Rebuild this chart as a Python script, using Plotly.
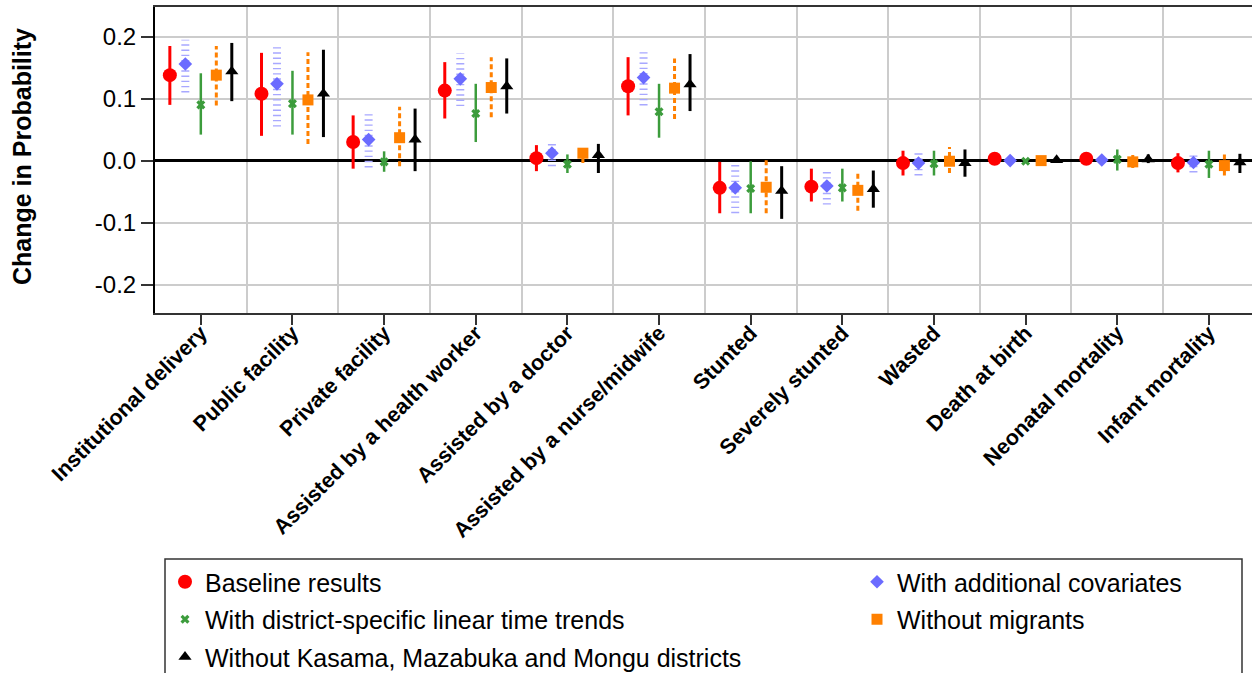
import plotly.graph_objects as go

categories = ["Institutional delivery", "Public facility", "Private facility",
              "Assisted by a health worker", "Assisted by a doctor",
              "Assisted by a nurse/midwife", "Stunted", "Severely stunted",
              "Wasted", "Death at birth", "Neonatal mortality", "Infant mortality"]

series_names = ["Baseline results", "With additional covariates",
                "With district-specific linear time trends", "Without migrants",
                "Without Kasama, Mazabuka and Mongu districts"]

baseline_est = [0.138, 0.108, 0.030, 0.113, 0.004, 0.120, -0.044, -0.042, -0.004, 0.003, 0.003, -0.004]
baseline_lo = [0.090, 0.040, -0.013, 0.068, -0.017, 0.073, -0.085, -0.066, -0.024, 0.000, 0.000, -0.019]
baseline_hi = [0.185, 0.174, 0.073, 0.159, 0.025, 0.167, -0.002, -0.013, 0.016, 0.006, 0.006, 0.012]

covar_est = [0.156, 0.124, 0.034, 0.132, 0.012, 0.134, -0.044, -0.041, -0.004, 0.000, 0.001, -0.003]
covar_lo = [0.110, 0.055, -0.011, 0.088, -0.009, 0.089, -0.085, -0.071, -0.024, -0.003, -0.003, -0.019]
covar_hi = [0.195, 0.188, 0.075, 0.173, 0.029, 0.175, -0.007, -0.014, 0.013, 0.003, 0.005, 0.010]

district_est = [0.090, 0.092, -0.002, 0.076, -0.006, 0.079, -0.045, -0.044, -0.005, -0.001, 0.002, -0.006]
district_lo = [0.042, 0.042, -0.018, 0.030, -0.020, 0.037, -0.085, -0.066, -0.024, -0.003, -0.016, -0.028]
district_hi = [0.141, 0.145, 0.015, 0.124, 0.010, 0.124, -0.001, -0.013, 0.016, 0.002, 0.018, 0.016]

migrants_est = [0.138, 0.098, 0.037, 0.118, 0.012, 0.117, -0.043, -0.048, -0.001, 0.000, -0.002, -0.008]
migrants_lo = [0.089, 0.027, -0.009, 0.070, -0.004, 0.067, -0.085, -0.081, -0.020, -0.003, -0.012, -0.024]
migrants_hi = [0.185, 0.175, 0.087, 0.167, 0.022, 0.165, 0.002, -0.020, 0.022, 0.003, 0.011, 0.013]

kasama_est = [0.144, 0.108, 0.034, 0.120, 0.009, 0.123, -0.049, -0.046, -0.004, 0.001, 0.002, -0.003]
kasama_lo = [0.096, 0.038, -0.017, 0.076, -0.020, 0.080, -0.094, -0.076, -0.026, -0.001, -0.004, -0.020]
kasama_hi = [0.190, 0.179, 0.084, 0.165, 0.027, 0.172, -0.009, -0.016, 0.018, 0.004, 0.010, 0.011]

y_tickvals = [-0.2, -0.1, 0.0, 0.1, 0.2]
y_ticktext = ["-0.2", "-0.1", "0.0", "0.1", "0.2"]

FONT = "Liberation Sans, Arial, sans-serif"

styles = [
    dict(color="#ff0000", symbol="circle", size=14, lcolor="#ff0000", lwidth=3, dash="solid", legend="legend"),
    dict(color="#6b6bff", symbol="diamond", size=10.5, lcolor="#a8a8ff", lwidth=8, dash="1.4px,3.8px", legend="legend2"),
    dict(color="#3c9c3c", symbol="x", size=8, lcolor="#3c9c3c", lwidth=2.5, dash="solid", legend="legend"),
    dict(color="#ff8000", symbol="square", size=11, lcolor="#ff8000", lwidth=3, dash="5px,3px", legend="legend2"),
    dict(color="#000000", symbol="triangle-up", size=11.5, lcolor="#000000", lwidth=3, dash="solid", legend="legend"),
]
data = [
    (baseline_est, baseline_lo, baseline_hi),
    (covar_est, covar_lo, covar_hi),
    (district_est, district_lo, district_hi),
    (migrants_est, migrants_lo, migrants_hi),
    (kasama_est, kasama_lo, kasama_hi),
]
step = 0.169
offsets = [(j - 2) * step for j in range(5)]

fig = go.Figure()
# CI lines
for j, (est, lo, hi) in enumerate(data):
    st = styles[j]
    xs, ys = [], []
    for i in range(len(categories)):
        xp = i + offsets[j]
        xs += [xp, xp, None]
        ys += [lo[i], hi[i], None]
    fig.add_trace(go.Scatter(x=xs, y=ys, mode="lines", showlegend=False,
                             line=dict(color=st["lcolor"], width=st["lwidth"], dash=st["dash"]),
                             hoverinfo="skip"))
# markers
for j, (est, lo, hi) in enumerate(data):
    st = styles[j]
    xs = [i + offsets[j] for i in range(len(categories))]
    fig.add_trace(go.Scatter(x=xs, y=est, mode="markers", name=series_names[j],
                             legend=st["legend"], legendgroup=series_names[j],
                             marker=dict(color=st["color"], symbol=st["symbol"], size=st["size"],
                                         line=dict(width=0))))

plot_l, plot_w = 155, 1097
plot_b, plot_h = 313, 306

def px_x(p):
    return (p - plot_l) / plot_w

def px_y(p):
    return (plot_b - p) / plot_h

fig.update_layout(
    width=1252, height=673,
    margin=dict(l=plot_l, r=0, t=7, b=673 - plot_b, autoexpand=False),
    paper_bgcolor="white", plot_bgcolor="white",
    font=dict(family=FONT, color="black"),
    xaxis=dict(range=[-0.5, 11.47], tickmode="array", tickvals=list(range(len(categories))),
               ticktext=categories, tickangle=-45, ticks="outside", ticklen=10, tickwidth=2,
               tickcolor="#333333", showgrid=False, zeroline=False, ticklabelstandoff=-13,
               showline=True, linecolor="#333333", linewidth=2, mirror=True,
               tickfont=dict(size=21.5, weight="bold", family=FONT, color="black"),
               minor=dict(tickmode="array", tickvals=[k + 0.5 for k in range(-1, 12)],
                          showgrid=True, gridcolor="#cccccc", gridwidth=1.5, ticks="")),
    yaxis=dict(range=[-0.246, 0.248], tickmode="array", tickvals=y_tickvals, ticktext=y_ticktext,
               ticks="outside", ticklen=12, tickwidth=2, tickcolor="#333333",
               showgrid=True, gridcolor="#cccccc", gridwidth=1.5,
               zeroline=True, zerolinecolor="black", zerolinewidth=2.5,
               showline=True, linecolor="black", linewidth=2, mirror=True,
               tickfont=dict(size=24, family=FONT, color="black")),
    legend=dict(x=px_x(165), y=px_y(559), xanchor="left", yanchor="top",
                bgcolor="rgba(0,0,0,0)", borderwidth=0, tracegroupgap=2,
                font=dict(size=25, family=FONT, color="black")),
    legend2=dict(x=px_x(857), y=px_y(559), xanchor="left", yanchor="top",
                 bgcolor="rgba(0,0,0,0)", borderwidth=0, tracegroupgap=2,
                 font=dict(size=25, family=FONT, color="black")),
    shapes=[dict(type="rect", xref="paper", yref="paper",
                 x0=px_x(165), x1=px_x(1242), y0=px_y(559), y1=px_y(700),
                 line=dict(color="#333333", width=1.5), fillcolor="rgba(0,0,0,0)")],
    annotations=[dict(text="Change in Probability", xref="paper", yref="paper",
                      x=px_x(22), y=px_y(157), xanchor="center", yanchor="middle",
                      textangle=-90, showarrow=False,
                      font=dict(size=25, weight="bold", family=FONT, color="black"))],
)

fig.write_html("out.html")
